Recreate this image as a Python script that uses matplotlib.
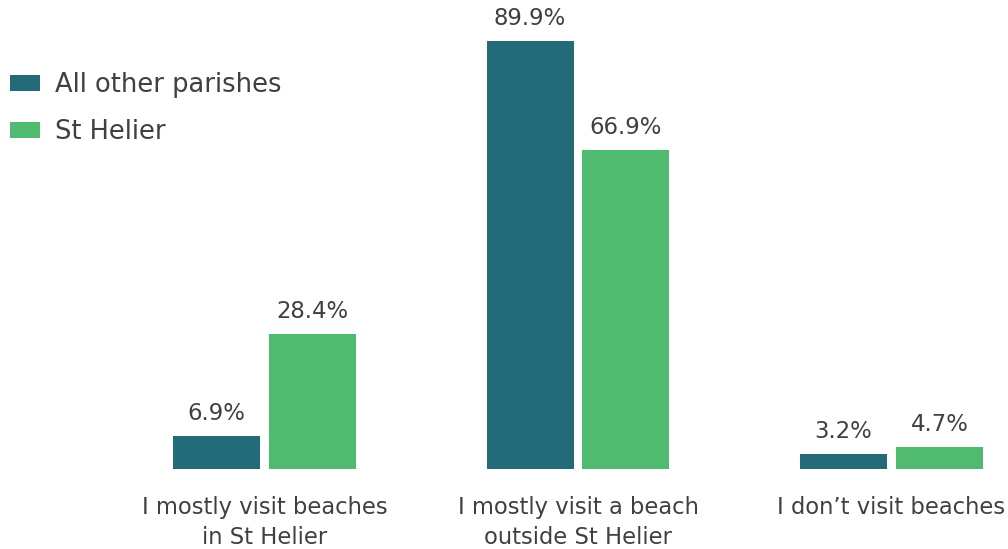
import numpy as np
import matplotlib as mpl
mpl.use('Agg')
import matplotlib.pyplot as plt

categories = ["I mostly visit beaches\nin St Helier",
              "I mostly visit a beach\noutside St Helier",
              "I don\u2019t visit beaches"]
other_parishes = [6.9, 89.9, 3.2]
st_helier = [28.4, 66.9, 4.7]
series_names = ["All other parishes", "St Helier"]

dark = "#246b7a"
green = "#50bb6e"
text_col = "#404040"

plt.rcParams['font.family'] = ['DejaVu Sans']

fig = plt.figure(figsize=(10.08, 5.49), dpi=100)
ax = fig.add_axes([0, 80 / 549, 1, 469 / 549])

x = np.arange(len(categories))
w = 0.2775
off = 0.153
b1 = ax.bar(x - off, other_parishes, w, color=dark, label=series_names[0])
b2 = ax.bar(x + off, st_helier, w, color=green, label=series_names[1])

for bars in (b1, b2):
    ax.bar_label(bars, labels=["%.1f%%" % v for v in bars.datavalues],
                 padding=8, fontsize=16.4, color=text_col)

ax.set_xlim(-264.5 / 313.5, (1008 - 264.5) / 313.5)
ax.set_ylim(0, 469 / 4.761)
ax.set_xticks(x)
ax.set_xticklabels(categories, fontsize=16.3, color=text_col, linespacing=1.4)
ax.tick_params(axis='x', length=0, pad=19.5)
ax.set_yticks([])
for s in ax.spines.values():
    s.set_visible(False)

leg = ax.legend(loc='upper left', bbox_to_anchor=(0.0, 0.888), bbox_transform=fig.transFigure,
                frameon=False, fontsize=18.5, handlelength=1.17, handleheight=0.58,
                handletextpad=0.58, labelspacing=0.83, borderaxespad=0.0, borderpad=0.4)
for t in leg.get_texts():
    t.set_color(text_col)

fig.savefig('out.png', dpi=100)
